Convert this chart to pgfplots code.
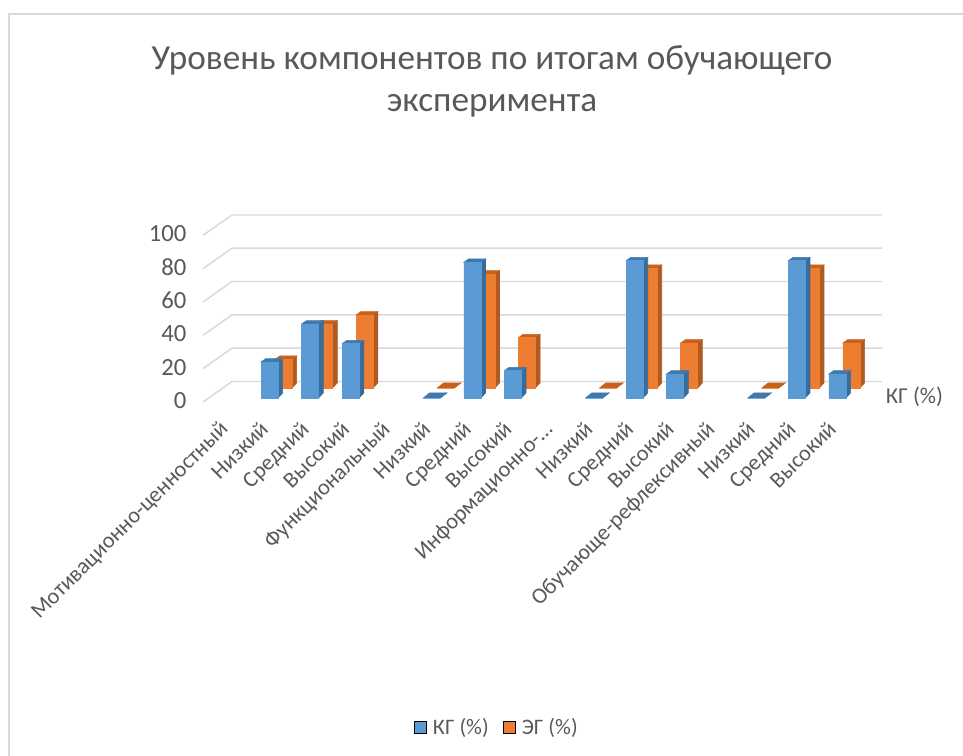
\documentclass[border=0pt]{standalone}
\usepackage{fontspec}
\setmainfont{Carlito}
\usepackage{pgfplots}
\usepackage{pgfplotstable}
\pgfplotsset{compat=1.18}
\definecolor{kg}{HTML}{5B9BD5}
\definecolor{kgside}{HTML}{3A6C99}
\definecolor{kgtop}{HTML}{3F79AE}
\definecolor{eg}{HTML}{ED7D31}
\definecolor{egside}{HTML}{AE5A21}
\definecolor{egtop}{HTML}{C8611C}
\definecolor{txt}{HTML}{595959}
\definecolor{gridc}{HTML}{D9D9D9}
\pgfplotstableread{
i v
1 21.6
2 44.4
3 32.6
5 0
6 81.4
7 16.4
9 0
10 82.4
11 14.4
13 0
14 82.4
15 14.4
}\kgdata
\pgfplotstableread{
i v
1 17.2
2 38.4
3 43.8
5 0
6 68.4
7 30.2
9 0
10 71.8
11 27
13 0
14 71.8
15 27
}\egdata
% side, top and front faces of a 3-D looking bar, hung from the data point
\pgfplotsset{
  faces/.style n args={3}{
    forget plot, only marks, scatter, mark=*, mark size=0pt,
    mark options={draw=none,fill=none},
    visualization depends on={rawy \as \val},
    scatter/@pre marker code/.code={%
      \pgfmathsetmacro\h{\val*1.6667*0.75}%
      \pgfmathsetmacro\dx{\val<5?4.9:3.5}%
      \pgfmathsetmacro\dt{\val<5?3.9:2.5}%
      \fill[#1] (6.375pt,0pt) -- (6.375pt+\dx pt,\dt pt) -- (6.375pt+\dx pt,3.75pt-\h pt) -- (6.375pt,-\h pt) -- cycle;
      \fill[#2] (-6.375pt,0pt) -- (6.375pt,0pt) -- (6.375pt+\dx pt,\dt pt) -- (-6.375pt+\dx pt,\dt pt) -- cycle;
      \fill[#3] (-6.375pt,0pt) rectangle (6.375pt,-\h pt);
    },
    scatter/@post marker code/.code={},
  },
  front/.style={forget plot, ybar, bar width=12.75pt, bar shift=0pt, draw=none},
  wall/.style={forget plot, gridc, line width=1.1pt},
}
\begin{document}
\begin{tikzpicture}[x=0.75pt,y=0.75pt]
\path[use as bounding box] (0,0) rectangle (963,756);
\draw[gridc,line width=1.6pt] (9,0) -- (9,742) -- (963,742);
\begin{axis}[
  at={(152.25pt,265.5pt)}, anchor=south west,
  scale only axis, width=509.25pt, height=140.25pt,
  xmin=-0.64, xmax=16.10, ymin=-2.4, ymax=109.8,
  clip=false,
  axis lines=left, axis line style={draw=none}, tick style={draw=none},
  major tick length=0pt,
  ytick={0,20,40,60,80,100},
  xtick={0,1,2,3,4,5,6,7,8,9,10,11,12,13,14,15},
  xticklabels={Мотивационно-ценностный,Низкий,Средний,Высокий,Функциональный,Низкий,Средний,Высокий,Информационно-…,Низкий,Средний,Высокий,Обучающе-рефлексивный,Низкий,Средний,Высокий},
  /pgf/number format/assume math mode=true,
  yticklabel style={font=\fontsize{18.5pt}{20pt}\selectfont, text=txt, anchor=east, xshift=-9pt, yshift=-2pt},
  xticklabel style={font=\fontsize{16.8pt}{18pt}\selectfont, text=txt, rotate=45, anchor=north east, inner sep=0pt, xshift=-14.9pt, yshift=-3.55pt},
  title={Уровень компонентов по итогам обучающего\\эксперимента},
  title style={at={(axis description cs:0.4256,1.674)}, anchor=center, align=center, text=txt,
    font=\fontsize{26.4pt}{31.5pt}\selectfont, inner sep=0pt},
  legend columns=2,
  legend style={at={(axis description cs:0.4337,-1.74)}, anchor=center, draw=none, fill=none,
    font=\fontsize{16.6pt}{18pt}\selectfont, text=txt,
    /tikz/every odd column/.append style={column sep=3pt},
    /tikz/every even column/.append style={column sep=9pt}},
  legend cell align=left,
]
\addlegendimage{only marks, mark=square*, mark size=4.4pt, mark options={fill=kg,draw=none}}
\addlegendentry{КГ (\%)}
\addlegendimage{only marks, mark=square*, mark size=4.4pt, mark options={fill=eg,draw=none}}
\addlegendentry{ЭГ (\%)}
% walls: front edge, back corner, back right
\addplot[wall] coordinates {(-0.64,-2.4) (0.075,9.9) (16.10,9.9)};
\addplot[wall] coordinates {(-0.64,17.6) (0.075,29.9) (16.10,29.9)};
\addplot[wall] coordinates {(-0.64,37.6) (0.075,49.9) (16.10,49.9)};
\addplot[wall] coordinates {(-0.64,57.6) (0.075,69.9) (16.10,69.9)};
\addplot[wall] coordinates {(-0.64,77.6) (0.075,89.9) (16.10,89.9)};
\addplot[wall] coordinates {(-0.64,97.6) (0.075,109.8) (16.10,109.8)};
% ЭГ row, set back
\addplot[front, fill=eg, xshift=10.5pt, yshift=7.5pt] table[x=i,y=v] {\egdata};
\addplot[faces={egside}{egtop}{eg}, xshift=10.5pt, yshift=7.5pt] table[x=i,y=v] {\egdata};
% КГ row, in front
\addplot[front, fill=kg] table[x=i,y=v] {\kgdata};
\addplot[faces={kgside}{kgtop}{kg}] table[x=i,y=v] {\kgdata};
\node[text=txt, font=\fontsize{17pt}{18pt}\selectfont, anchor=west, inner sep=0pt] at (axis cs:16.19,0.9) {КГ (\%)};
\end{axis}
\end{tikzpicture}
\end{document}
